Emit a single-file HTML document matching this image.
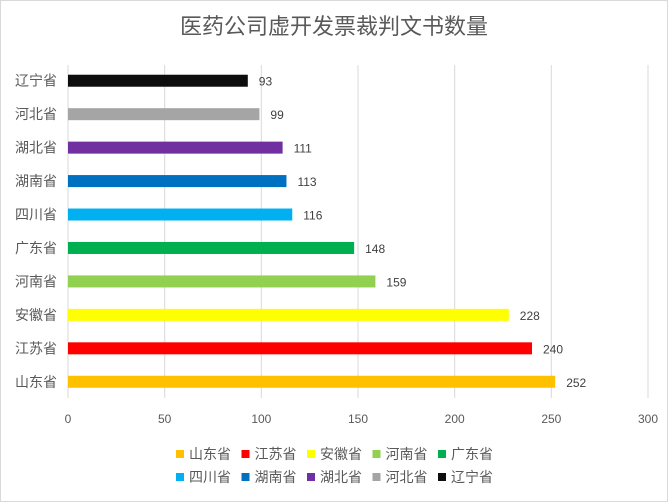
<!DOCTYPE html>
<html><head><meta charset="utf-8"><style>
body{margin:0;background:#fff;}
svg{display:block;font-family:"Liberation Sans","Noto Sans CJK SC",sans-serif;}
</style></head><body>
<svg id="chart" width="668" height="502">
<rect x="0.5" y="0.5" width="667" height="501" fill="#fff" stroke="#d9d9d9"/>
<text x="334" y="34" text-anchor="middle" font-size="22" fill="#595959">医药公司虚开发票裁判文书数量</text>
<g id="grid"></g><g id="bars"></g><g id="legend"></g>
</svg>
<script>
const categories=["辽宁省","河北省","湖北省","湖南省","四川省","广东省","河南省","安徽省","江苏省","山东省"];
const values=[93,99,111,113,116,148,159,228,240,252];
const colors=["#0d0d0d","#a5a5a5","#7030a0","#0070c0","#00b0f0","#00b050","#92d050","#ffff00","#ff0000","#ffc000"];
const ticks=[0,50,100,150,200,250,300];
const legendOrder=["山东省","江苏省","安徽省","河南省","广东省","四川省","湖南省","湖北省","河北省","辽宁省"];
const NS="http://www.w3.org/2000/svg";
const x0=68,x1=648,yTop=65,yBot=398,vMax=300;
const xs=v=>x0+(v/vMax)*(x1-x0);
const bandTop=64,band=33.45;
const yc=i=>bandTop+band*(i+0.5);
function mk(t,a,p){const e=document.createElementNS(NS,t);for(const k in a)e.setAttribute(k,a[k]);p.appendChild(e);return e;}
const grid=document.getElementById('grid');
ticks.forEach(t=>{
 const l=mk('line',{x1:xs(t),x2:xs(t),y1:yTop,y2:yBot,stroke:'#d9d9d9','stroke-width':1},grid);
 
 
 const tx=mk('text',{x:xs(t),y:yBot+25,'text-anchor':'middle','font-size':12,fill:'#595959'},grid);
 tx.textContent=t;
 
 
});
const bars=document.getElementById('bars');
categories.forEach((c,i)=>{
 const y=yc(i);
 const lb=mk('text',{x:57,y:y+5,'text-anchor':'end','font-size':14,fill:'#595959'},bars);
 lb.textContent=c;
 
 
 const r=mk('rect',{x:x0,y:y-6,width:xs(values[i])-x0,height:12,fill:colors[i]},bars);
 
 
 const v=mk('text',{x:xs(values[i])+11,y:y+5,'font-size':12,fill:'#404040'},bars);
 v.textContent=values[i];
 
 
});
const lg=document.getElementById('legend');
legendOrder.forEach((n,k)=>{
 const row=Math.floor(k/5),col=k%5;
 const x=176+col*65.5,y=454+row*23;
 const ci=categories.indexOf(n);
 const g=mk('g',{},lg);
 
 
 mk('rect',{x:x,y:y-4,width:8,height:8,fill:colors[ci]},g);
 const t=mk('text',{x:x+13,y:y+5,'font-size':14,fill:'#595959'},g);
 t.textContent=n;
});
</script>
</body></html>
